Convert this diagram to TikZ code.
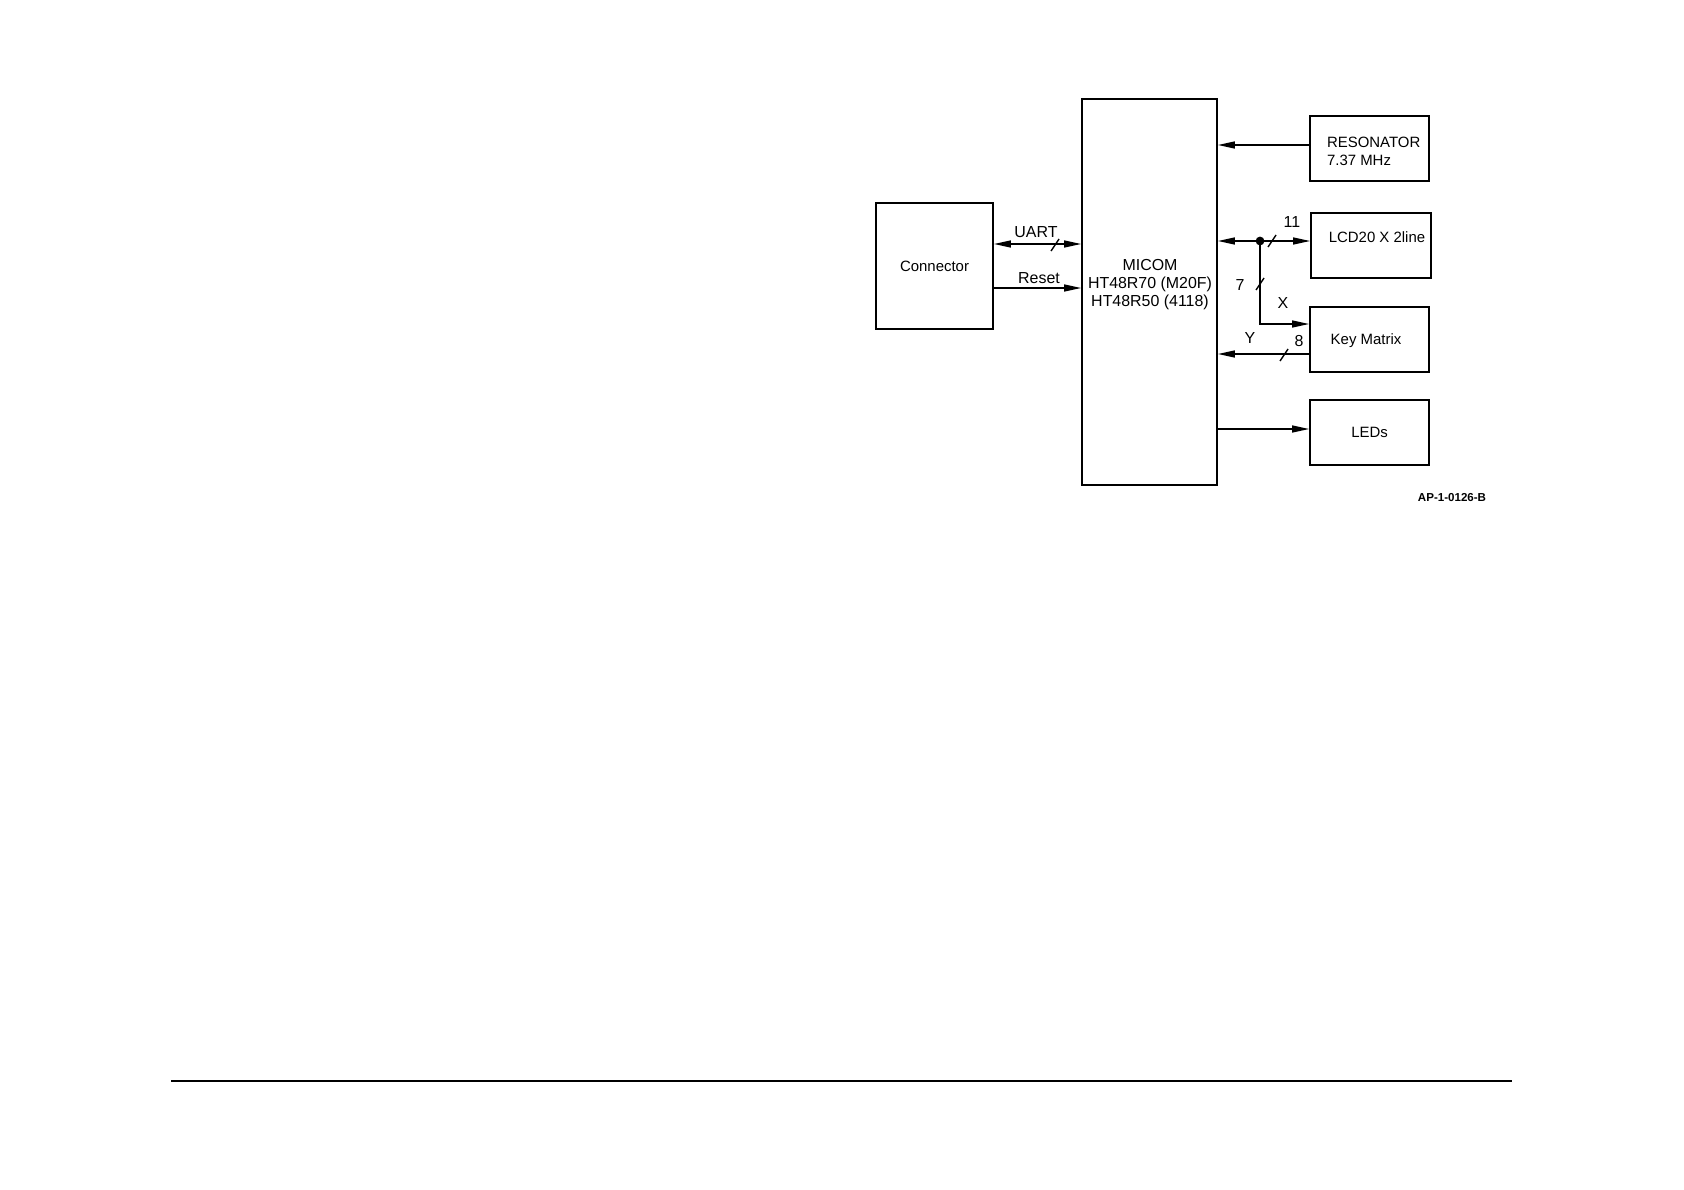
\documentclass[tikz,border=0pt]{standalone}
\usepackage{fontspec}
\setmainfont{Liberation Sans}
\usetikzlibrary{arrows.meta,positioning}
\newlength\px
\setlength\px{0.017637cm}

\begin{document}
\begin{tikzpicture}[x=0.017637cm, y=-0.017637cm,
  every node/.style={font=\fontsize{7.5}{9}\selectfont},
  block/.style={draw, line width=0.9pt, inner sep=0pt, text depth=0pt, minimum width=119\px, minimum height=65\px},
  lbl/.style={font=\fontsize{8}{9}\selectfont, inner sep=1pt},
  wire/.style={line width=0.7pt},
  sig/.style={wire, -{Triangle[length=8.5pt,width=3.5pt]}},
  bisig/.style={wire, {Triangle[length=8.5pt,width=3.5pt]}-{Triangle[length=8.5pt,width=3.5pt]}}]
  \useasboundingbox (0,0) rectangle (1684,1190);
  % blocks
  \node[block, minimum width=117\px, minimum height=126\px] (conn) at (934.5,266) {Connector};
  \node[block, minimum width=135\px, minimum height=386\px] (micom) at (1149.5,292) {};
  \node[align=center, font=\fontsize{8}{9}\selectfont] (micomtxt) at (1150,285) {MICOM\\HT48R70 (M20F)\\HT48R50 (4118)};
  \node[block] (reso) at (1369.5,148.5) {};
  \node[anchor=west, align=left] (resotxt) at (1320,151) {RESONATOR\\7.37 MHz};
  \node[block, minimum width=120\px] (lcd) at (1371,245.5) {};
  \node (lcdtxt) at (1377,237) {LCD20 X 2line};
  \node[block] (keys) at (1369.5,339.5) {};
  \node (keystxt) at (1366,341) {Key Matrix};
  \node[block] (leds) at (1369.5,432.5) {LEDs};
  % signal rows
  \coordinate (uart) at (0,244);
  \coordinate (reset) at (0,288);
  \coordinate (clk) at (0,145);
  \coordinate (tap) at (1260,241);
  \coordinate (xrow) at (0,324);
  \coordinate (yrow) at (0,354);
  \coordinate (ledrow) at (0,429);
  % connectors
  \draw[bisig] (conn.east |- uart) -- (micom.west |- uart);
  \draw[sig] (conn.east |- reset) -- (micom.west |- reset);
  \draw[sig] (reso.west |- clk) -- (micom.east |- clk);
  \draw[bisig] (micom.east |- tap) -- (lcd.west |- tap);
  \fill (tap) circle[radius=2.2pt];
  \draw[sig] (tap) |- (keys.west |- xrow);
  \draw[sig] (keys.west |- yrow) -- (micom.east |- yrow);
  \draw[sig] (micom.east |- ledrow) -- (leds.west |- ledrow);
  % bus width marks
  \foreach \x/\y in {1055/245, 1272/241, 1260/284, 1284/355}
    \draw[wire] (\x,\y) ++(-4,6) -- ++(8,-12);
  % labels
  \node[lbl] (uartlbl) at (1036,232) {UART};
  \node[lbl] (resetlbl) at (1039,278) {Reset};
  \node[lbl] (n11) at (1292,222) {11};
  \node[lbl] (n7) at (1240,285) {7};
  \node[lbl] (xlbl) at (1283,303) {X};
  \node[lbl] (ylbl) at (1250,338) {Y};
  \node[lbl] (n8) at (1299,341) {8};
  \node[font=\bfseries\fontsize{5.8}{7}\selectfont] (figid) at (1452,498) {AP-1-0126-B};
  % page rule
  \draw[line width=1pt] (171,1081) -- (1512,1081);
\end{tikzpicture}
\end{document}
